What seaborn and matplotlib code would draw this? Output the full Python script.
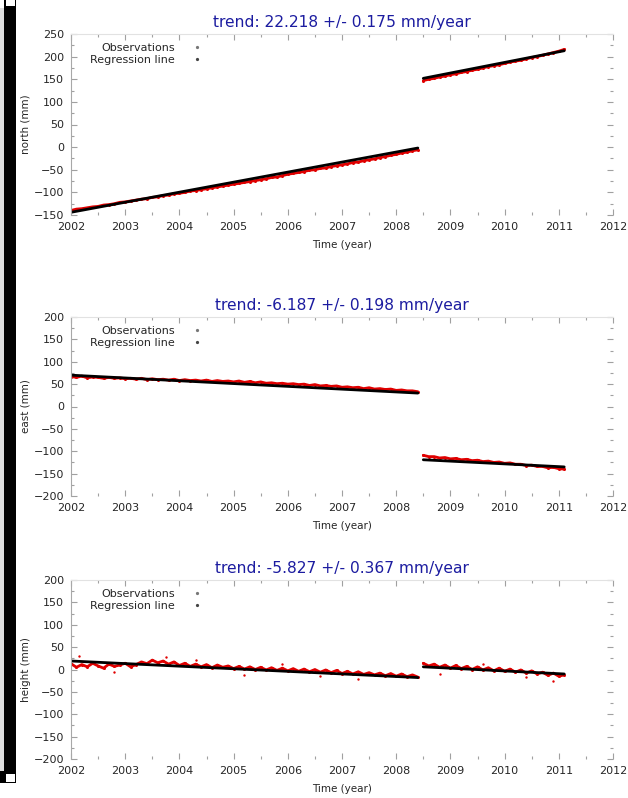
import numpy as np
import matplotlib
matplotlib.use('Agg')
import matplotlib.pyplot as plt
import seaborn as sns
from matplotlib.lines import Line2D
from matplotlib.patches import Rectangle
from matplotlib.ticker import MultipleLocator

# sampling times of the digitised observations (one value every 0.1 year)
t_before = np.round(np.arange(2002.0, 2008.45, 0.1), 2)   # 65 values, up to the jump
t_after = np.round(np.arange(2008.5, 2011.15, 0.1), 2)    # 27 values, after the jump

titles = ['trend: 22.218 +/- 0.175 mm/year',
          'trend: -6.187 +/- 0.198 mm/year',
          'trend: -5.827 +/- 0.367 mm/year']
ylabels = ['north (mm)', 'east (mm)', 'height (mm)']
ylims = [(-150, 250), (-200, 200), (-200, 200)]

# observations (mm)
north_obs_1 = [-140, -137, -136, -134, -132, -131, -128, -127, -125, -122,
               -121, -119, -117, -115, -114, -111, -110, -107, -106, -103,
               -102, -100, -97, -96, -94, -92, -90, -88, -86, -84,
               -82, -80, -78, -76, -74, -72, -70, -67, -66, -63,
               -60, -58, -56, -54, -51, -50, -47, -46, -43, -41,
               -39, -37, -34, -33, -30, -28, -26, -23, -21, -18,
               -16, -13, -11, -8, -6]
north_obs_2 = [147, 150, 152, 155, 157, 160, 162, 165, 167, 170,
               172, 175, 178, 180, 182, 185, 188, 190, 192, 195,
               198, 200, 203, 206, 209, 212, 216]
east_obs_1 = [67, 65, 68, 64, 66, 65, 63, 65, 63, 64,
              62, 63, 61, 63, 60, 62, 60, 61, 59, 61,
              58, 60, 58, 59, 57, 59, 56, 58, 56, 57,
              55, 57, 54, 56, 53, 55, 52, 53, 51, 52,
              50, 51, 49, 50, 47, 49, 46, 47, 45, 46,
              43, 44, 42, 43, 40, 42, 39, 40, 38, 39,
              36, 37, 35, 35, 33]
east_obs_2 = [-109, -112, -112, -115, -114, -117, -116, -119, -118, -121,
              -120, -123, -122, -125, -124, -127, -126, -129, -129, -132,
              -131, -134, -134, -137, -136, -139, -140]
height_obs_1 = [13, 5, 11, 6, 14, 8, 3, 12, 7, 10,
                14, 6, 11, 17, 13, 21, 15, 19, 12, 17,
                9, 14, 7, 12, 6, 11, 4, 10, 5, 8,
                2, 7, 1, 6, 0, 5, -1, 4, -2, 3,
                -3, 2, -4, 1, -5, 0, -6, -1, -7, -2,
                -9, -4, -10, -5, -11, -7, -12, -8, -14, -9,
                -15, -10, -16, -12, -17]
height_obs_2 = [14, 8, 12, 5, 10, 3, 9, 2, 7, 0,
                6, -1, 4, -3, 3, -4, 1, -6, -1, -8,
                -3, -10, -6, -13, -8, -15, -12]
height_out_t = [2002.15, 2002.8, 2003.75, 2004.3, 2005.2, 2005.9, 2006.6, 2007.3, 2008.8, 2009.6, 2010.4, 2010.9]
height_out_v = [31, -6, 27, 22, -12, 13, -15, -22, -9, 13, -17, -25]

# regression lines: value at start / end of each segment (mm)
north_reg = [(-144, -2), (152, 213)]
east_reg = [(70, 30), (-119, -135)]
height_reg = [(19, -18), (6, -10)]

observations = [(north_obs_1, north_obs_2), (east_obs_1, east_obs_2), (height_obs_1, height_obs_2)]
regressions = [north_reg, east_reg, height_reg]

sns.set_theme(style='white')
plt.rcParams['font.family'] = ['DejaVu Sans']

W, H = 628, 798
fig = plt.figure(figsize=(W / 100, H / 100), dpi=100)

left, right = 71, 613
panel_px = [(34, 215), (317, 496), (580, 759)]
axes = [fig.add_axes([left / W, 1 - bot / H, (right - left) / W, (bot - top) / H])
        for top, bot in panel_px]

for i, ax in enumerate(axes):
    obs1, obs2 = observations[i]
    reg = regressions[i]
    for tt, oo in [(t_before, obs1), (t_after, obs2)]:
        sns.lineplot(x=tt, y=oo, ax=ax, color='#e00000', lw=2.0, marker='o',
                     markersize=2.2, markeredgewidth=0, estimator=None, sort=False)
    if i == 2:
        sns.scatterplot(x=height_out_t, y=height_out_v, ax=ax, color='#e00000',
                        s=3, linewidth=0)
    for tt, (y0, y1) in [(t_before, reg[0]), (t_after, reg[1])]:
        sns.lineplot(x=[tt[0], tt[-1]], y=[y0, y1], ax=ax, color='black', lw=2.0)

    ax.set_xlim(2002, 2012)
    ax.set_ylim(*ylims[i])
    ax.xaxis.set_major_locator(MultipleLocator(1))
    ax.xaxis.set_minor_locator(MultipleLocator(0.5))
    ax.yaxis.set_major_locator(MultipleLocator(50))
    ax.yaxis.set_minor_locator(MultipleLocator(25))
    ax.tick_params(which='both', direction='in', color='#a0a0a0', labelsize=8,
                   top=True, bottom=True, left=True, right=True)
    ax.tick_params(which='major', length=4, width=0.8)
    ax.tick_params(which='minor', length=2, width=0.8)
    ax.tick_params(axis='x', pad=5)
    ax.tick_params(axis='y', pad=5)

    ax.spines['bottom'].set_visible(False)
    ax.spines['right'].set_visible(False)
    ax.spines['top'].set_color('#e2e2e2')
    ax.spines['left'].set_color('#a8a8a8')
    ax.spines['top'].set_linewidth(0.8)
    ax.spines['left'].set_linewidth(0.8)

    ax.set_title(titles[i], color='#1c1ca0', fontsize=11.2, pad=5)
    ax.set_xlabel('Time (year)', fontsize=7.5, labelpad=6)
    ax.set_ylabel(ylabels[i], fontsize=7.5, labelpad=2)

    handles = [Line2D([], [], ls='none', marker='o', ms=1.3, color='#777777'),
               Line2D([], [], ls='none', marker='o', ms=1.3, color='#444444')]
    ax.legend(handles=handles, labels=['Observations', 'Regression line'],
              markerfirst=False, frameon=False, loc='upper right',
              bbox_to_anchor=(0.262, 0.975), fontsize=8, labelspacing=0.15,
              handletextpad=1.0, borderaxespad=0.0)

# window frame on the left edge of the screenshot
def px_rect(x0, y0, x1, y1, face):
    fig.add_artist(Rectangle((x0 / W, 1 - y1 / H), (x1 - x0) / W, (y1 - y0) / H,
                             transform=fig.transFigure, facecolor=face,
                             edgecolor='none', zorder=10))

px_rect(0, 8, 4, 771, '#dcdcdc')
px_rect(4, 0, 16, 783, 'black')
px_rect(0, 771, 16, 783, 'black')
px_rect(6, 0, 15, 6, 'white')
px_rect(6, 774, 15, 782, 'white')

fig.savefig('out.png', dpi=100)
